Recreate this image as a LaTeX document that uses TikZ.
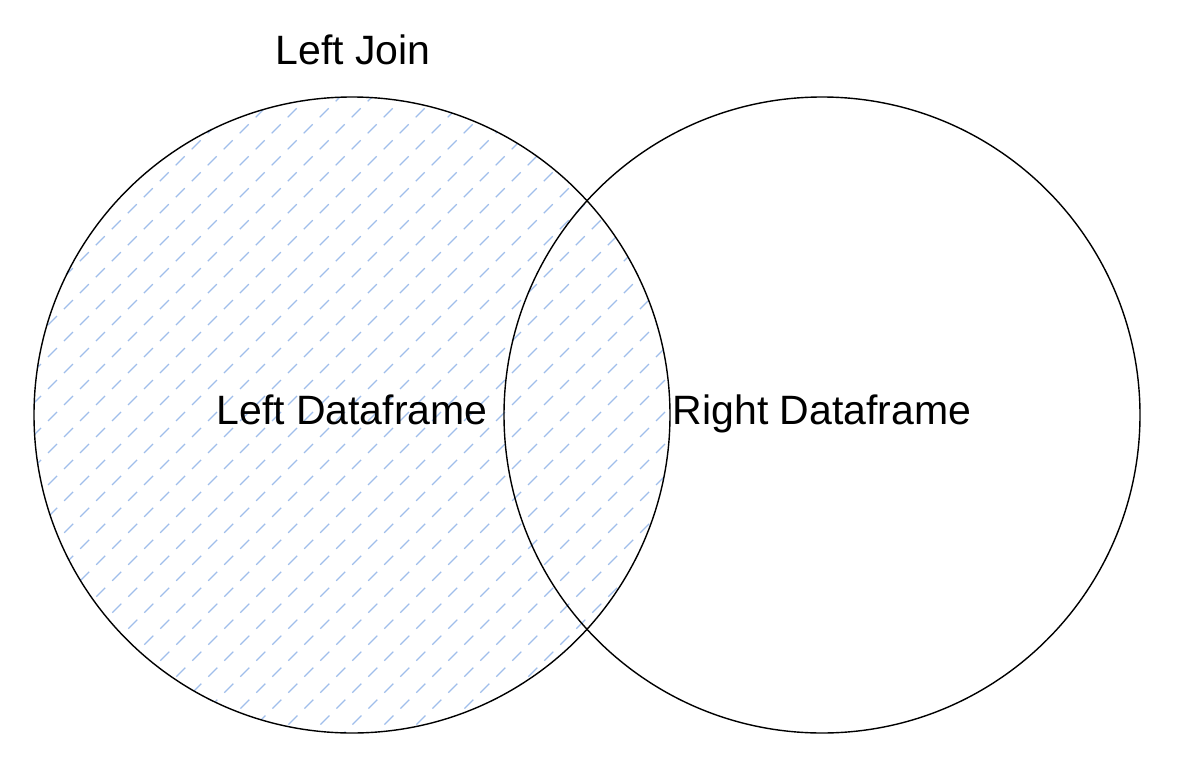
\documentclass[tikz,border=0pt]{standalone}
\usepackage{fontspec}
\setmainfont{Liberation Sans}
\definecolor{hatchblue}{RGB}{160,190,235}
\begin{document}
\begin{tikzpicture}[x=1pt,y=-1pt,
  hatchline/.style={draw=hatchblue, line width=1.2pt, dash pattern=on 12.7pt off 9.9pt},
  ring/.style={draw=black, line width=1.4pt},
  lbl/.style={inner sep=0pt, anchor=base, font=\fontsize{41}{49}\selectfont}]
\useasboundingbox (0,0) rectangle (1180,768);
\coordinate (cl) at (352,415);
\coordinate (cr) at (822,415);
\begin{scope}
  \clip (cl) circle[radius=318pt];
  \foreach \k in {-16,...,15} {
    \draw[hatchline] ({789+32*\k-804.49},804.49) -- ++(900,-900);
  }
\end{scope}
\draw[ring] (cl) circle[radius=318pt];
\draw[ring] (cr) circle[radius=318pt];
\node[lbl] (title) at (353,64) {Left Join};
\node[lbl] (ldf) at (352,424) {Left Dataframe};
\node[lbl] (rdf) at (822,424) {Right Dataframe};
\end{tikzpicture}
\end{document}
